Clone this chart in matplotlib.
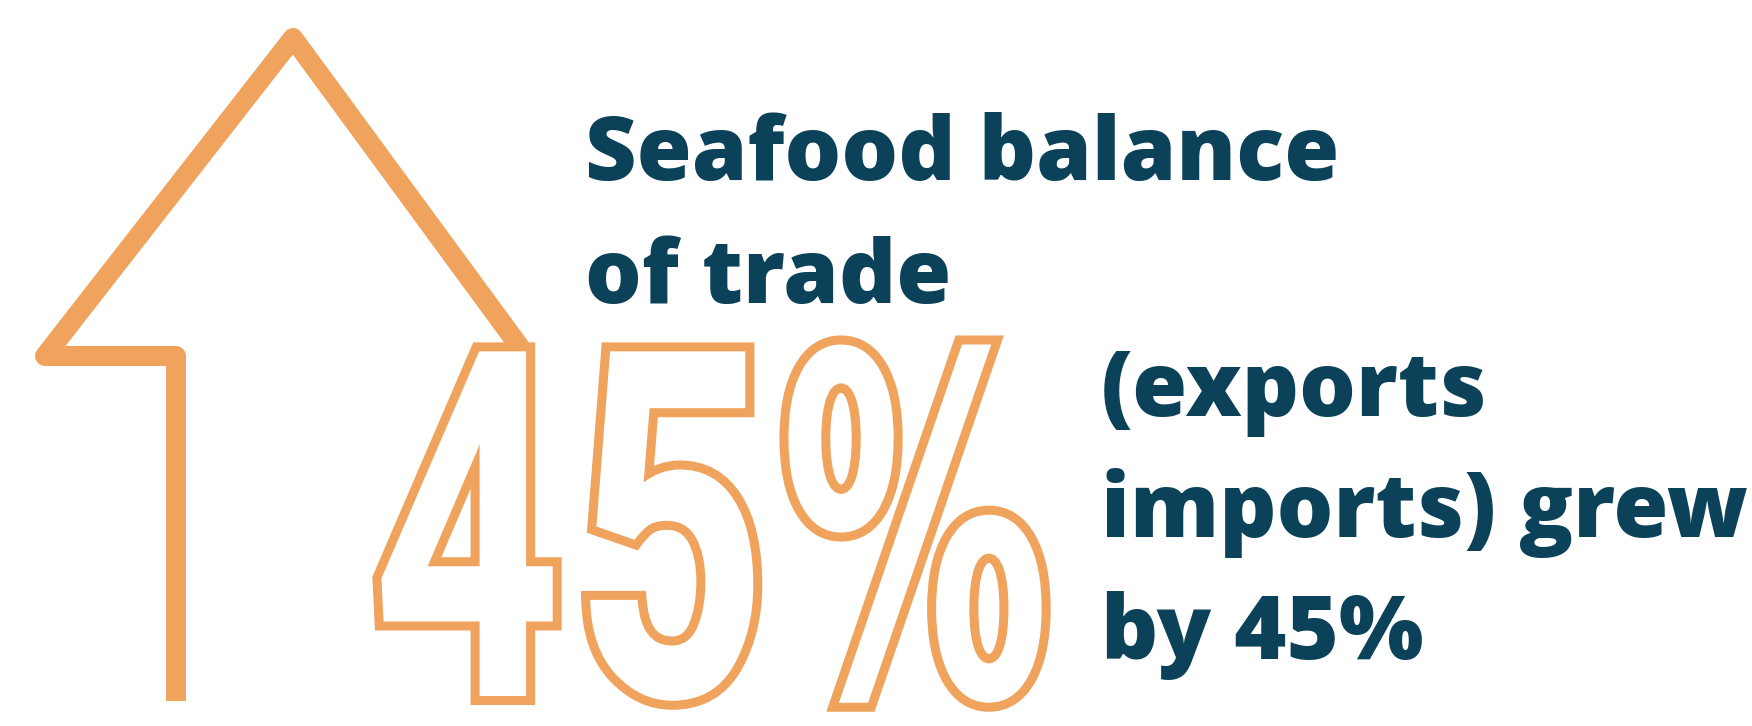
import matplotlib
matplotlib.use("Agg")
import matplotlib.pyplot as plt
import matplotlib.patheffects as pe
from matplotlib.transforms import Affine2D

# colours
orange = "#EFA35D"
navy = "#0B4259"

# arrow outline (pixel coords, y down)
arrow_x = [176, 176, 45, 293, 522]
arrow_y = [701, 356, 356, 38, 350]

# big outlined figure, one glyph at a time
big_chars = ["4", "5", "%"]
big_centres = [467, 670, 915]
big_squeeze = [0.68, 0.70, 0.57]
big_fonts = ["Roboto", "Roboto", "DejaVu Sans"]
big_sizes = [349, 349, 341]

# headline text
title_lines = ["Seafood balance", "of trade"]
title_baselines = [180, 303]
note_lines = ["(exports", "imports) grew", "by 45%"]
note_baselines = [416, 537, 659]


class SqueezedOutline(pe.AbstractPathEffect):
    """outline + fill, squeezed sideways about a centre given in data x"""

    def __init__(self, ax, x0, sx, lw, color):
        super().__init__()
        self.ax = ax
        self.x0 = x0
        self.sx = sx
        self.lw = lw
        self.color = color

    def draw_path(self, renderer, gc, tpath, affine, rgbFace=None):
        cx = self.ax.transData.transform((self.x0, 0))[0]
        squeeze = Affine2D().translate(-cx, 0).scale(self.sx, 1).translate(cx, 0)
        new_affine = affine + squeeze
        gc0 = renderer.new_gc()
        gc0.copy_properties(gc)
        gc0.set_linewidth(self.lw)
        gc0.set_foreground(self.color)
        gc0.set_joinstyle("miter")
        renderer.draw_path(gc0, tpath, new_affine, None)
        gc0.restore()
        renderer.draw_path(gc, tpath, new_affine, rgbFace)


fig = plt.figure(figsize=(17.52, 7.26), dpi=100)
ax = fig.add_axes([0, 0, 1, 1])
ax.set_xlim(0, 1752)
ax.set_ylim(726, 0)
ax.axis("off")

ax.plot(arrow_x, arrow_y, color=orange, lw=14.4,
        solid_joinstyle="round", solid_capstyle="butt", zorder=1)

for ch, cx, sx, fam, size in zip(big_chars, big_centres, big_squeeze,
                                 big_fonts, big_sizes):
    ax.text(cx, 696, ch, fontsize=size, fontfamily=[fam, "DejaVu Sans"],
            fontweight="bold", color="white", ha="center", va="baseline",
            zorder=3,
            path_effects=[SqueezedOutline(ax, cx, sx, 13, orange)])

for line, y in zip(title_lines, title_baselines):
    ax.text(585, y, line, fontsize=64.3, fontfamily=["Open Sans", "DejaVu Sans"],
            fontweight=800, color=navy, ha="left", va="baseline")

for line, y in zip(note_lines, note_baselines):
    ax.text(1101, y, line, fontsize=64.3, fontfamily=["Open Sans", "DejaVu Sans"],
            fontweight=800, color=navy, ha="left", va="baseline")

fig.savefig("out.png", dpi=100, facecolor="white")
